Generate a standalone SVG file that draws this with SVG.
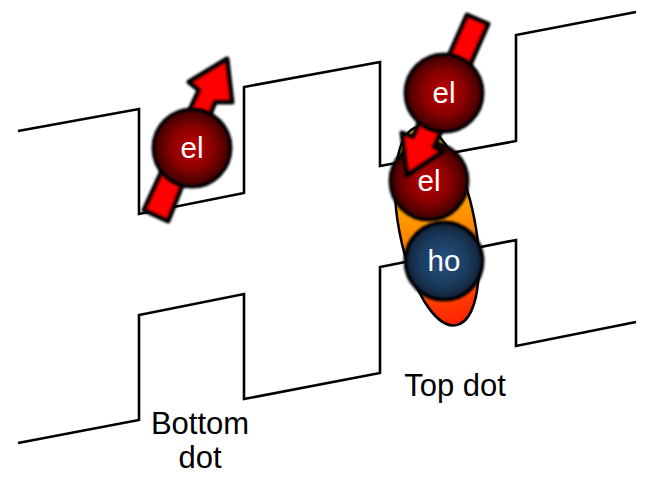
<svg xmlns="http://www.w3.org/2000/svg" width="664" height="495" viewBox="0 0 664 495">
<style>
.band{fill:none;stroke:#000;stroke-width:2.6;stroke-linejoin:miter}
.arrow{fill:#f00;stroke:#000;stroke-width:5;stroke-linejoin:round;filter:url(#soft)}
.el{fill:url(#elFill);stroke:#000;stroke-width:4;filter:url(#soft)}
.ho{fill:url(#hoFill);stroke:#000;stroke-width:4;filter:url(#soft)}
.ball{font-family:"Liberation Sans",Arial,sans-serif;font-size:29.5px;fill:#fff;text-anchor:middle}
.lbl{font-family:"Liberation Sans",Arial,sans-serif;font-size:31px;fill:#000;text-anchor:middle}
</style>
<defs>
<filter id="soft" x="-20%" y="-20%" width="140%" height="140%"><feGaussianBlur stdDeviation="0.8"/></filter>
<radialGradient id="elFill"><stop offset="0" stop-color="#c00000"/><stop offset="0.55" stop-color="#8a0000"/><stop offset="1" stop-color="#3c0000"/></radialGradient>
<radialGradient id="hoFill"><stop offset="0" stop-color="#25507f"/><stop offset="0.6" stop-color="#1c3d60"/><stop offset="1" stop-color="#0f2238"/></radialGradient>
<linearGradient id="exciton" x1="0" y1="0" x2="0" y2="1"><stop offset="0" stop-color="#ffe600"/><stop offset="0.5" stop-color="#ff8c00"/><stop offset="1" stop-color="#ff2000"/></linearGradient>
</defs>
<g id="connectors">
<polyline class="band" points="18,131 139,109 139,214 244,193 244,87 380,62 380,166 516,141 516,35 636,12"/>
<polyline class="band" points="18,443 139,420 139,315 244,294 244,399 380,373 380,267 516,240 516,346 636,322"/>
</g>
<g id="exciton-blob"><ellipse cx="437" cy="226" rx="38" ry="101" transform="rotate(-11 437 226)" fill="url(#exciton)" stroke="#000" stroke-width="2.5"/></g>
<g id="bottom-el">
<polygon class="arrow" points="144,210 168,221 215,102 232,102 227,59 189,82 199,90"/>
<circle class="el" cx="192" cy="148" r="38.5"/>
<text class="ball" x="192" y="158">el</text>
</g>
<g id="top-el-lower">
<circle class="el" cx="429" cy="181" r="38.5"/>
<text class="ball" x="429" y="191">el</text>
</g>
<g id="top-el-upper">
<polygon class="arrow" points="467,15 488,24 434,147 443,151 407,175 402,133 413,137"/>
<circle class="el" cx="444" cy="93" r="38.5"/>
<text class="ball" x="444" y="103">el</text>
</g>
<g id="top-ho">
<circle class="ho" cx="444" cy="261" r="38.5"/>
<text class="ball" x="444" y="271">ho</text>
</g>
<g id="top-dot-label"><text class="lbl" x="455" y="396">Top dot</text></g>
<g id="bottom-dot-label"><text class="lbl" x="200" y="434">Bottom</text><text class="lbl" x="200" y="468">dot</text></g>
</svg>
